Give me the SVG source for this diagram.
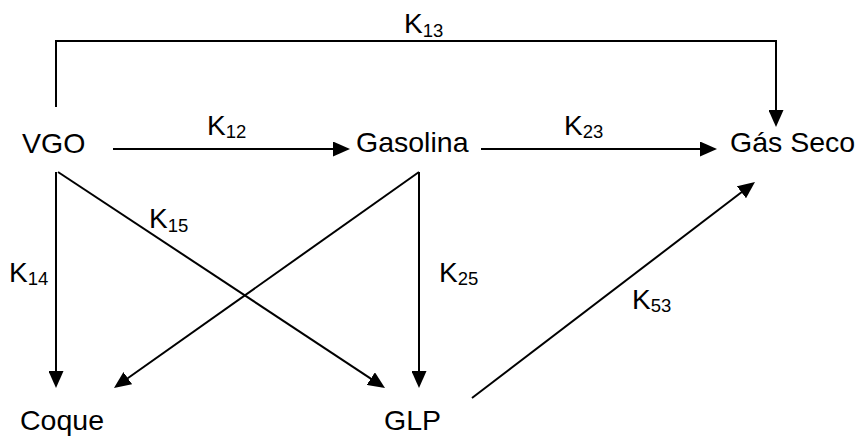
<svg xmlns="http://www.w3.org/2000/svg" width="860" height="437" viewBox="0 0 860 437">
<style>
text{font-family:"Liberation Sans",Arial,Helvetica,sans-serif;fill:#000}
.n{font-size:28.5px}
.k{font-size:28px}
.s{font-size:18.5px}
.e{fill:none;stroke:#000;stroke-width:2}
.a{marker-end:url(#ah)}
</style>
<defs>
<marker id="ah" markerUnits="userSpaceOnUse" markerWidth="17" markerHeight="15" refX="14" refY="7.5" orient="auto" viewBox="0 0 17 15">
<path d="M0,0 L17,7.5 L0,15 z" fill="#000"/>
</marker>
</defs>
<rect width="860" height="437" fill="#fff"/>
<g id="connectors">
<polyline class="e a" points="56,107 56,41 776,41 776,124"/>
<line class="e a" x1="113" y1="149" x2="347" y2="149"/>
<line class="e a" x1="481" y1="149" x2="714" y2="149"/>
<line class="e a" x1="56" y1="172" x2="56" y2="385"/>
<line class="e a" x1="58" y1="172" x2="382.5" y2="386.3"/>
<line class="e a" x1="419" y1="172" x2="419" y2="385"/>
<line class="e a" x1="419" y1="172" x2="116.4" y2="386.3"/>
<line class="e a" x1="472" y1="398" x2="752.6" y2="183.8"/>
<text class="k" x="404" y="33">K<tspan class="s" dy="4">13</tspan></text>
<text class="k" x="207" y="135">K<tspan class="s" dy="3">12</tspan></text>
<text class="k" x="564" y="135">K<tspan class="s" dy="3">23</tspan></text>
<text class="k" x="149" y="228">K<tspan class="s" dy="4">15</tspan></text>
<text class="k" x="9" y="282">K<tspan class="s" dy="3">14</tspan></text>
<text class="k" x="439" y="282">K<tspan class="s" dy="3">25</tspan></text>
<text class="k" x="632" y="309">K<tspan class="s" dy="3">53</tspan></text>
</g>
<g id="vgo"><text class="n" x="22" y="153">VGO</text></g>
<g id="gasolina"><text class="n" x="356" y="152">Gasolina</text></g>
<g id="gas-seco"><text class="n" x="730" y="152">Gás Seco</text></g>
<g id="coque"><text class="n" x="20" y="430">Coque</text></g>
<g id="glp"><text class="n" x="384" y="430">GLP</text></g>
</svg>
